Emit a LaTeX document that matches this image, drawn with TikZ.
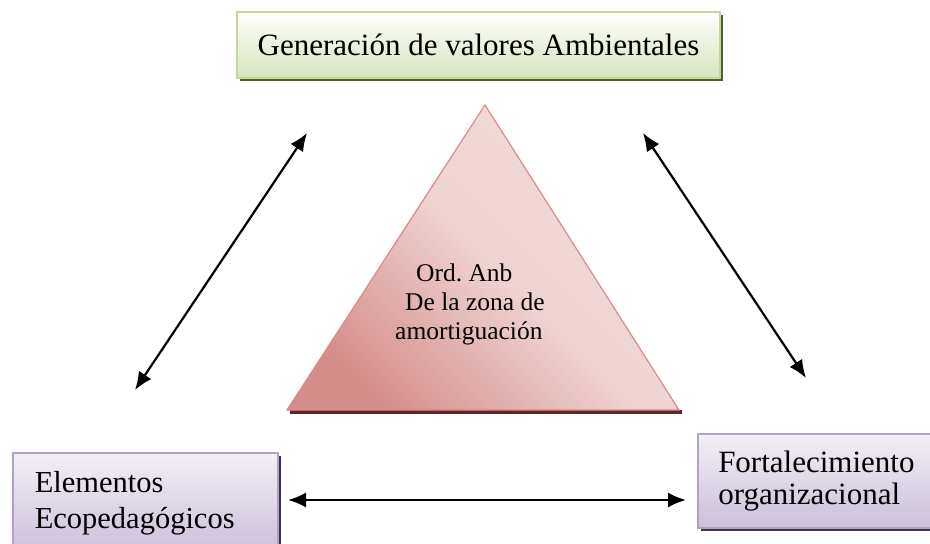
\documentclass[tikz,border=0pt]{standalone}
\usepackage{fontspec}
\setmainfont{Liberation Serif}
\usetikzlibrary{arrows.meta,shadows}
\definecolor{gbord}{HTML}{C3D69B}
\definecolor{gfill}{HTML}{D7E4BD}
\definecolor{gshad}{HTML}{4F6228}
\definecolor{pbord}{HTML}{B2A1C7}
\definecolor{pfill}{HTML}{CCC0DA}
\definecolor{pshad}{HTML}{3F3151}
\definecolor{rdark}{HTML}{D58D8B}
\definecolor{rlight}{HTML}{F2DCDB}
\definecolor{rshad}{HTML}{632523}
\frenchspacing
\tikzset{
  gbox/.style={draw=gbord,line width=1.5pt,top color=white,bottom color=gfill,
    drop shadow={shadow xshift=3pt,shadow yshift=-3pt,fill=gshad,opacity=1}},
  pbox/.style={draw=pbord,line width=1.5pt,top color=pfill!25,bottom color=pfill,
    drop shadow={shadow xshift=3pt,shadow yshift=-3pt,fill=pshad,opacity=1}},
  link/.style={line width=2.2pt,{Latex[length=18pt,width=15pt]}-{Latex[length=18pt,width=15pt]}}
}
\begin{document}
\begin{tikzpicture}[x=1pt,y=-1pt]
\useasboundingbox (0,0) rectangle (930,544);
% top box
\node[gbox,minimum width=483pt,minimum height=66pt,inner sep=0pt,font=\fontsize{31}{36}\selectfont]
  (top) at (478.5,45) {Generación de valores Ambientales};
% left box
\node[pbox,minimum width=265pt,minimum height=100pt,inner sep=0pt,anchor=north west,
  text width=221pt,align=left,font=\fontsize{30.5}{36}\selectfont]
  (left) at (12,452) {Elementos\\Ecopedagógicos};
% right box
\node[pbox,minimum width=245pt,minimum height=94pt,inner sep=0pt,anchor=north west,
  text width=224pt,align=left,font=\fontsize{31}{32}\selectfont]
  (right) at (697,433) {\hspace*{10pt}Fortalecimiento\\\hspace*{10pt}organizacional};
% triangle
\coordinate (apex) at (485,105);
\coordinate (bl) at (287,410);
\coordinate (br) at (679,410);
\fill[rshad] (290,410) -- (682,410) -- (682,414) -- (290,414) -- cycle;
\shade[left color=rdark,right color=rlight,middle color=rlight!88!rdark,shading angle=135,draw=rdark,line width=1.2pt]
  (apex) -- (br) -- (bl) -- cycle;
\node[anchor=north west,align=left,inner sep=0pt,font=\fontsize{25.5}{29}\selectfont]
  (tri) at (395,264) {\hspace*{21pt}Ord. Anb\\\hspace*{10pt}De la zona de\\amortiguación};
% arrows
\coordinate (l1) at (135,390);
\coordinate (l2) at (307,133);
\coordinate (r1) at (643,133);
\coordinate (r2) at (806,378);
\coordinate (b1) at (288,500);
\coordinate (b2) at (686,500);
\draw[link] (l1) -- (l2);
\draw[link] (r1) -- (r2);
\draw[link] (b1) -- (b2);
\end{tikzpicture}
\end{document}
